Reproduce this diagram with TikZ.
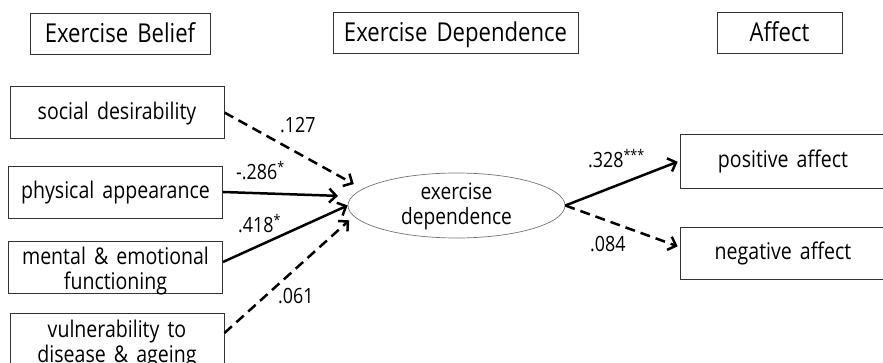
\documentclass[tikz,border=0pt]{standalone}
\usepackage{fontspec}
\setmainfont[FakeStretch=0.85,WordSpace=1.6]{Open Sans}
\usetikzlibrary{arrows.meta,shapes.geometric}
\begin{document}
\begin{tikzpicture}[
        x=1pt, y=-1pt,
        every node/.style={inner sep=0pt, align=center},
        box/.style={draw=black!80, line width=0.9pt, rectangle},
        head/.style={box, font=\fontsize{26}{28}\selectfont, minimum height=41pt, text height=19pt, text depth=0pt},
        var/.style={box, font=\fontsize{23}{25}\selectfont, minimum width=214pt, minimum height=52pt, text height=16pt, text depth=2pt},
        twoline/.style={text height=46pt, text depth=0pt},
        latent/.style={draw=black!55, line width=0.7pt, ellipse, minimum width=217pt, minimum height=65pt, text height=39pt, text depth=0pt, font=\fontsize{22.5}{25}\selectfont},
        coef/.style={font=\fontsize{21}{22}\selectfont, anchor=base west},
        sig/.style={line width=2.5pt, -{Straight Barb[length=7pt,width=14pt]}},
        ns/.style={sig, dash pattern=on 10pt off 6pt},
    ]
    \useasboundingbox (0,0) rectangle (883,363);
    \node[head, minimum width=180pt](belief) at (120,33.5){Exercise Belief};
    \node[head, minimum width=245pt](dependence) at (455.5,32.5){Exercise Dependence};
    \node[head, minimum width=125pt](affect) at (779.5,32.5){Affect};
    \node[var](social) at (117,112.5){social desirability};
    \node[var](physical) at (115.5,192){physical appearance};
    \node[var, twoline](mental) at (115.5,267){mental \& emotional\\functioning};
    \node[var, twoline](vulner) at (117,339){vulnerability to\\disease \& ageing};
    \node[latent](exdep) at (456.5,205.5){exercise\\dependence};
    \node[var, minimum width=206pt, minimum height=54pt](positive) at (783,161){positive affect};
    \node[var, minimum width=206pt](negative) at (783,253){negative affect};
    \draw[ns, shorten >=10pt] (social.east) -- (exdep.170);
    \draw[sig, shorten >=14pt] (physical.east) -- (exdep.175);
    \draw[sig] ([yshift=5pt]mental.east) -- (exdep.west);
    \draw[ns, shorten >=6pt] ([yshift=6pt]vulner.east) -- (exdep.186);
    \draw[sig, shorten >=2pt] (exdep.east) -- (positive.west);
    \draw[ns, shorten >=2pt] (exdep.east) -- ([yshift=6pt]negative.west);
    \node[coef](c127) at (280,133){.127};
    \node[coef](c286) at (236,180){-.286\textsuperscript{*}};
    \node[coef](c418) at (238,233){.418\textsuperscript{*}};
    \node[coef](c061) at (278,303){.061};
    \node[coef](c328) at (588,168){.328\textsuperscript{***}};
    \node[coef](c084) at (590,252){.084};
\end{tikzpicture}
\end{document}
